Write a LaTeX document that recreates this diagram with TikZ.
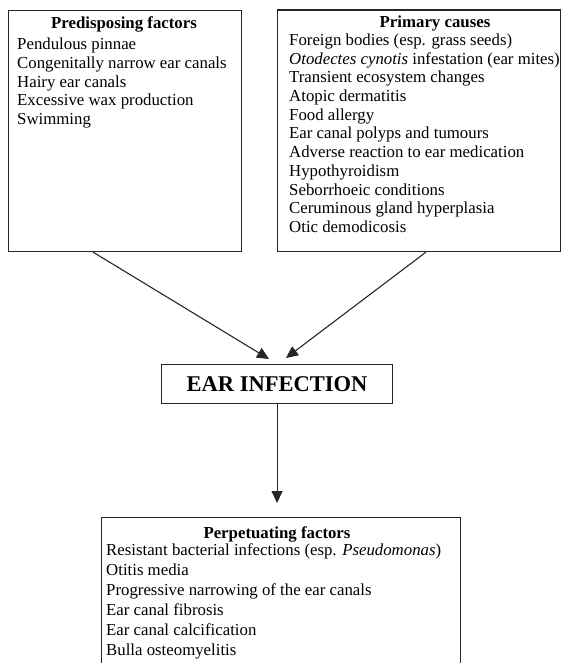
\documentclass[tikz,border=0pt]{standalone}
\usepackage{fontspec}
\setmainfont{Liberation Serif}
\usetikzlibrary{arrows.meta,calc}
\begin{document}
\begin{tikzpicture}[x=1pt,y=-1pt,
  frame/.style={draw=black!85, line width=1.1pt, inner sep=0pt, anchor=north west},
  % multi-line text nodes are placed by the baseline of their last line
  body/.style={anchor=base west, align=left, inner sep=0pt,
    font=\fontsize{16.8}{18.7}\selectfont},
  heading/.style={anchor=base, inner sep=0pt,
    font=\fontsize{16.8}{18.7}\selectfont\bfseries},
  link/.style={line width=1.1pt, draw=black!85, -{Triangle[length=12pt,width=11pt]}}]
\useasboundingbox (0,0) rectangle (562,663);
\clip (0,0) rectangle (562,663);

% boxes
\node[frame, minimum width=233pt, minimum height=241pt] (pre) at (8,10) {};
\node[frame, minimum width=283pt, minimum height=241.5pt] (pri) at (277,9.5) {};
\node[frame, minimum width=231pt, minimum height=39pt,
  font=\fontsize{22.5}{27}\selectfont\bfseries] (ear) at (161,364) {EAR INFECTION};
\node[frame, minimum width=359pt, minimum height=200pt] (per) at (101,517) {};

% predisposing factors
\node[heading] (preT) at (124,28.5) {Predisposing factors};
\node[body] (preB) at (17,124.5) {Pendulous pinnae\\
  Congenitally narrow ear canals\\
  Hairy ear canals\\
  Excessive wax production\\
  Swimming};

% primary causes
\node[heading] (priT) at (435,28) {Primary causes};
\node[body] (priB) at (289,232.5) {Foreign bodies (esp. grass seeds)\\
  \textit{Otodectes cynotis} infestation (ear mites)\\
  Transient ecosystem changes\\
  Atopic dermatitis\\
  Food allergy\\
  Ear canal polyps and tumours\\
  Adverse reaction to ear medication\\
  Hypothyroidism\\
  Seborrhoeic conditions\\
  Ceruminous gland hyperplasia\\
  Otic demodicosis};

% perpetuating factors
\node[heading] (perT) at (277,538) {Perpetuating factors};
\node[body, font=\fontsize{16.8}{20}\selectfont] (perB) at (106,655) {Resistant bacterial infections (esp. \textit{Pseudomonas})\\
  Otitis media\\
  Progressive narrowing of the ear canals\\
  Ear canal fibrosis\\
  Ear canal calcification\\
  Bulla osteomyelitis};

% connectors
\draw[link] ([xshift=85pt]pre.south west) -- ([xshift=108pt,yshift=5pt]ear.north west);
\draw[link] ([xshift=149pt]pri.south west) -- ([xshift=125pt,yshift=6pt]ear.north west);
\draw[link, shorten >=14pt] (ear.south) -- (ear.south |- per.north);
\end{tikzpicture}
\end{document}
